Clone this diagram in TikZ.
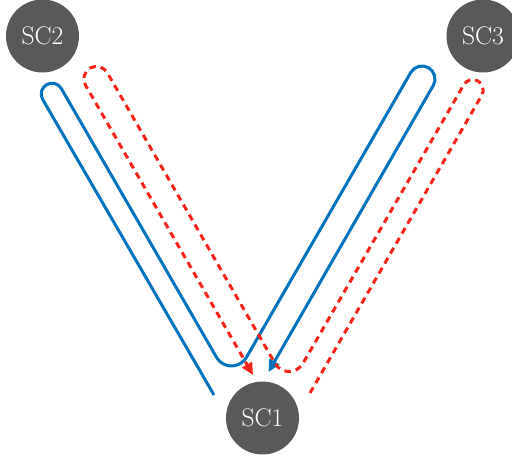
\documentclass[tikz,border=0pt]{standalone}
\usetikzlibrary{arrows.meta}
\definecolor{pathblue}{RGB}{0,114,189}
\definecolor{pathred}{RGB}{245,35,25}
\definecolor{nodegray}{RGB}{89,89,89}
\tikzset{
  sc/.style={circle, fill=nodegray, text=white, minimum size=73pt, inner sep=0pt,
    font=\fontsize{25.5}{30}\selectfont},
  bluepath/.style={draw=pathblue, line width=3pt, -{Triangle[length=12pt,width=11pt]}},
  redpath/.style={draw=pathred, line width=3pt, dash pattern=on 6.5pt off 5pt,
    -{Triangle[length=12pt,width=11pt]}}
}
\begin{document}
\begin{tikzpicture}[x=1pt,y=1pt]
\useasboundingbox (0,0) rectangle (512,460);
\node[sc] (sc1) at (262.5,42) {SC1};
\node[sc] (sc2) at (42.5,424) {SC2};
\node[sc] (sc3) at (483,424) {SC3};
\coordinate (bstart) at (214,65);
\coordinate (bend) at (268.5,88);
\coordinate (rstart) at (310,67);
\coordinate (rend) at (253,85);
% blue route
\draw[bluepath] (bstart) -- (42.65,360.6) arc[start angle=210, end angle=30, radius=10.8]
  -- (216.5,102.7) arc[start angle=210, end angle=330, radius=17.3]
  -- (410.74,387.5) arc[start angle=150, end angle=-30, radius=13]
  -- (bend);
% red route
\draw[redpath] (rstart) -- (481.8,364.8) arc[start angle=-30, end angle=150, radius=10.4]
  -- (302.94,96.55) arc[start angle=-30, end angle=-150, radius=16.1]
  -- (107.28,387.28) arc[start angle=30, end angle=210, radius=12.56]
  -- (rend);
\end{tikzpicture}
\end{document}
